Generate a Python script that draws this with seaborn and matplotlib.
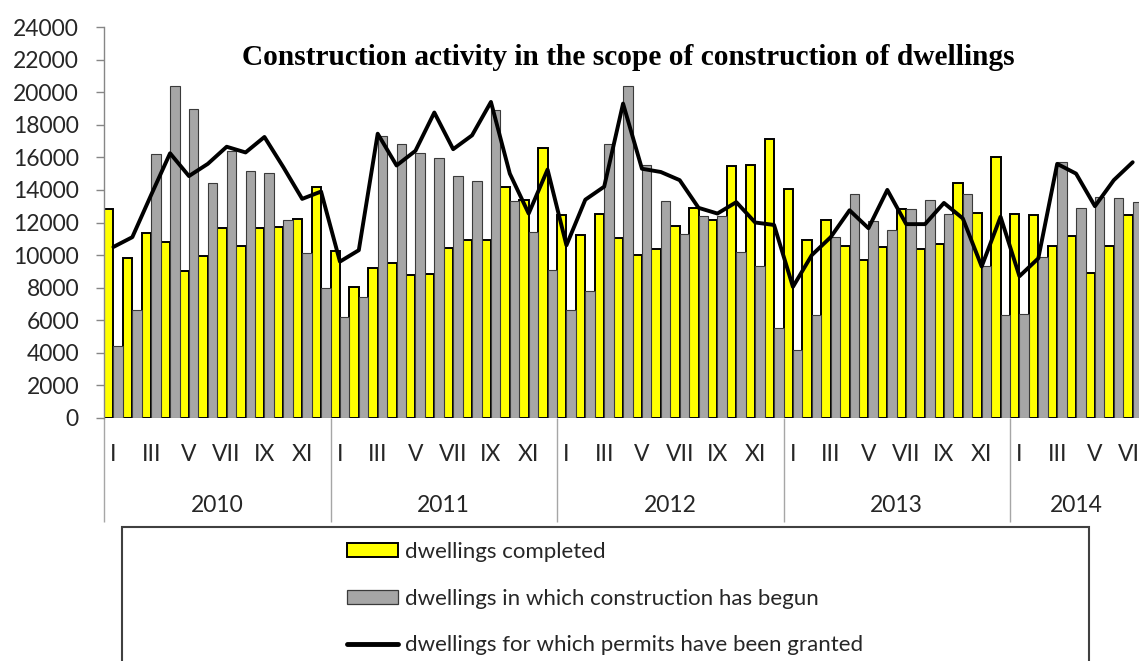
import numpy as np
import pandas as pd
import matplotlib
matplotlib.use("Agg")
import matplotlib.pyplot as plt
import matplotlib.transforms as mtransforms
import seaborn as sns
from matplotlib.patches import Patch, Rectangle
from matplotlib.lines import Line2D

# ---------------- data ----------------
years = ["2010", "2011", "2012", "2013", "2014"]
months_per_year = [12, 12, 12, 12, 7]
roman = ["I", "II", "III", "IV", "V", "VI", "VII", "VIII", "IX", "X", "XI", "XII"]

completed = [
    12800, 9850, 11350, 10800, 9000, 9950, 11650, 10550, 11650, 11750, 12200, 14200,
    10250, 8050, 9200, 9500, 8750, 8850, 10450, 10900, 10900, 14200, 13400, 16550,
    12450, 11250, 12550, 11050, 10000, 10400, 11800, 12900, 12150, 15450, 15500, 17100,
    14050, 10950, 12150, 10550, 9700, 10500, 12850, 10400, 10700, 14450, 12600, 16000,
    12550, 12450, 10550, 11200, 8900, 10550, 12450,
]
begun = [
    4400, 6600, 16200, 20400, 18950, 14450, 16400, 15150, 15050, 12150, 10150, 8000,
    6200, 7400, 17300, 16800, 16250, 15950, 14850, 14550, 18900, 13350, 11400, 9100,
    6650, 7800, 16800, 20350, 15500, 13350, 11300, 12400, 12400, 10200, 9300, 5500,
    4150, 6350, 11100, 13750, 12100, 11550, 12850, 13400, 12500, 13750, 9300, 6350,
    6400, 9900, 15700, 12900, 13550, 13500, 13250,
]
permits = [
    10500, 11100, 13700, 16250, 14850, 15600, 16650, 16300, 17250, 15400, 13450, 13900,
    9600, 10300, 17450, 15500, 16400, 18750, 16500, 17350, 19400, 15000, 12550, 15250,
    10600, 13400, 14200, 19300, 15300, 15100, 14600, 12900, 12550, 13250, 12000, 11850,
    8050, 10000, 11100, 12750, 11650, 14000, 11900, 11900, 13200, 12250, 9300, 12350,
    8700, 9800, 15600, 15000, 13000, 14600, 15700,
]
series_names = [
    "dwellings completed",
    "dwellings in which construction has begun",
    "dwellings for which permits have been granted",
]
title = "Construction activity in the scope of construction of dwellings"
y_ticks = list(range(0, 24001, 2000))

# ---------------- derived ----------------
period = [f"{y}-{roman[m]}" for y, n in zip(years, months_per_year) for m in range(n)]
month_lbl = [roman[m] for y, n in zip(years, months_per_year) for m in range(n)]
N = len(period)
df = pd.DataFrame({
    "period": period * 2,
    "value": completed + begun,
    "series": [series_names[0]] * N + [series_names[1]] * N,
})

YELLOW = "#FFFF00"
GRAY = "#A6A6A6"
AXIS_GRAY = "#868686"
TEXT = "#262626"

sns.set_theme(style="white")
plt.rcParams["font.family"] = ["Lato", "DejaVu Sans"]

W, H = 1139, 661
fig = plt.figure(figsize=(W / 100, H / 100), dpi=100)
ax_left, ax_bottom_px, ax_top_px = 104, 418, 27
month_px = 18.875
ax = fig.add_axes([ax_left / W, (H - ax_bottom_px) / H, N * month_px / W,
                   (ax_bottom_px - ax_top_px) / H])

sns.barplot(data=df, x="period", y="value", hue="series", order=period,
            hue_order=series_names[:2], palette=[YELLOW, GRAY], saturation=1,
            width=1.0, gap=0, dodge=True, legend=False, ax=ax, zorder=2)
for bar in ax.containers[0]:
    bar.set_edgecolor("black")
    bar.set_linewidth(1.4)
for bar in ax.containers[1]:
    bar.set_edgecolor("#3a3a3a")
    bar.set_linewidth(0.8)

sns.lineplot(x=np.arange(N), y=permits, color="black", lw=2.8, sort=False,
             ax=ax, zorder=5)

ax.set_xlim(-0.5, N - 0.5)
ax.set_ylim(0, 24000)
ax.set_yticks(y_ticks)
ax.set_yticklabels([str(v) for v in y_ticks])
ax.set_xlabel("")
ax.set_ylabel("")

ax.set_xticks(np.arange(0, N, 2))
ax.set_xticklabels(month_lbl[::2])
bounds = np.cumsum([0] + months_per_year) - 0.5
ax.set_xticks(bounds, minor=True)
ax.tick_params(axis="x", which="major", length=0, pad=19, labelsize=16.5,
               labelcolor=TEXT)
ax.tick_params(axis="x", which="minor", bottom=True, length=75, width=1.0,
               color="#A6A6A6", direction="out")
ax.tick_params(axis="y", which="major", length=6, width=1.0, color=AXIS_GRAY,
               direction="out", pad=12, labelsize=16.5, labelcolor=TEXT, left=True)

for s in ["top", "right", "bottom"]:
    ax.spines[s].set_visible(False)
ax.spines["left"].set_color(AXIS_GRAY)
ax.spines["left"].set_linewidth(1.0)

trans = mtransforms.blended_transform_factory(ax.transData, ax.transAxes)
axh = ax_bottom_px - ax_top_px
for y, lo, n in zip(years, bounds[:-1], months_per_year):
    ax.text(lo + n / 2, -77 / axh, y, transform=trans, ha="center", va="top",
            fontsize=16.5, color=TEXT)

fig.text(628.5 / W, 1 - 65 / H, title, ha="center", va="baseline",
         fontfamily="Liberation Serif", fontweight="bold", fontsize=21.2, color="black")

# legend frame
fig.add_artist(Rectangle((122 / W, -10 / H), (1089 - 122) / W, (H + 10 - 527) / H,
                         transform=fig.transFigure, fill=False,
                         edgecolor="#404040", lw=1.5))
handles = [
    Patch(facecolor=YELLOW, edgecolor="black", lw=1.4),
    Patch(facecolor=GRAY, edgecolor="#3a3a3a", lw=0.9),
    Line2D([], [], color="black", lw=3.5),
]
fig.legend(handles, series_names, loc="upper left",
           bbox_to_anchor=(347 / W, 1 - 542 / H), frameon=False, fontsize=16,
           handlelength=2.3, handleheight=0.56, handletextpad=0.33,
           labelspacing=1.2, borderpad=0, borderaxespad=0, labelcolor=TEXT)

fig.savefig("out.png", dpi=100)
